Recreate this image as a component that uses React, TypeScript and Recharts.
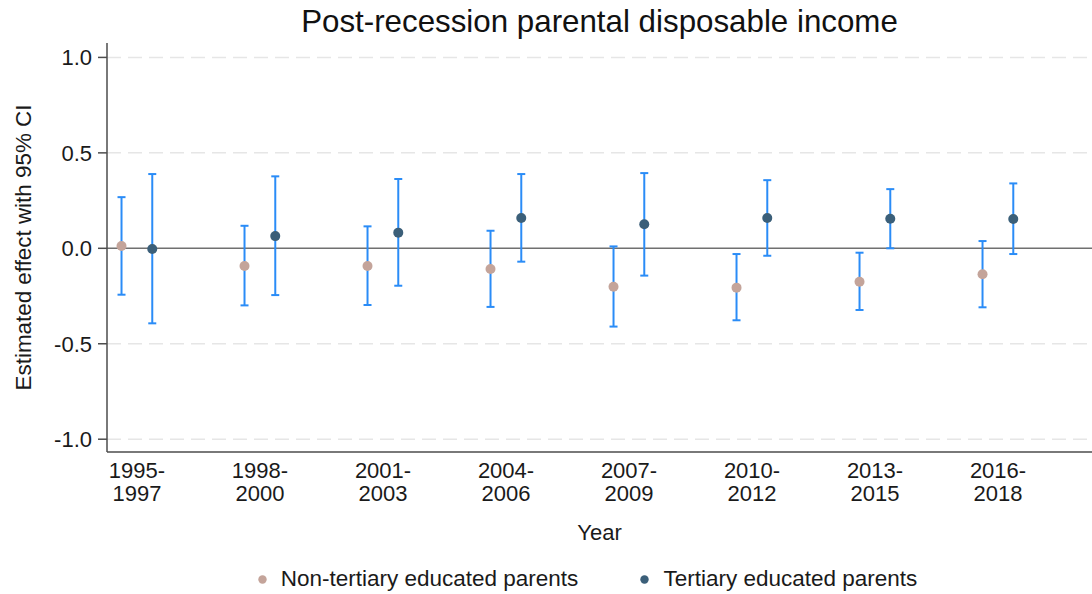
import React from 'react';
import {
  ScatterChart,
  Scatter,
  XAxis,
  YAxis,
  ErrorBar,
  ReferenceLine,
  Legend,
} from 'recharts';

const periods = ['1995-1997', '1998-2000', '2001-2003', '2004-2006', '2007-2009', '2010-2012', '2013-2015', '2016-2018'];

const nonTertiaryEst = [0.012, -0.093, -0.093, -0.108, -0.201, -0.206, -0.175, -0.136];
const nonTertiaryLow = [-0.243, -0.299, -0.297, -0.307, -0.41, -0.377, -0.323, -0.309];
const nonTertiaryHigh = [0.268, 0.118, 0.115, 0.092, 0.01, -0.03, -0.023, 0.038];

const tertiaryEst = [-0.004, 0.064, 0.082, 0.159, 0.126, 0.159, 0.155, 0.154];
const tertiaryLow = [-0.393, -0.245, -0.196, -0.07, -0.143, -0.039, 0.0, -0.03];
const tertiaryHigh = [0.389, 0.377, 0.363, 0.389, 0.394, 0.357, 0.31, 0.34];

const yTicks = [-1, -0.5, 0, 0.5, 1];
const gridValues = [-1, -0.5, 0.5, 1];

const FONT = '"Liberation Sans", Arial, sans-serif';
const NT_COLOR = '#c4a49a';
const T_COLOR = '#3b5f79';
const CI_COLOR = '#2a8cf7';

const NT_OFFSET = -0.126;
const T_OFFSET = 0.124;

const ntData = periods.map((p, i) => ({
  x: i + NT_OFFSET,
  y: nonTertiaryEst[i],
  err: [nonTertiaryEst[i] - nonTertiaryLow[i], nonTertiaryHigh[i] - nonTertiaryEst[i]],
}));
const tData = periods.map((p, i) => ({
  x: i + T_OFFSET,
  y: tertiaryEst[i],
  err: [tertiaryEst[i] - tertiaryLow[i], tertiaryHigh[i] - tertiaryEst[i]],
}));

const XTick = (props: any) => {
  const { x, y, payload } = props;
  const label = periods[Math.round(payload.value)] || '';
  const [a, b] = label.split('-');
  return (
    <text x={x} y={y} textAnchor="middle" fontSize={22} fontFamily={FONT} fill="#1a1a1a">
      <tspan x={x} dy={26}>{a + '-'}</tspan>
      <tspan x={x} dy={23}>{b}</tspan>
    </text>
  );
};

const LegendContent = () => (
  <div
    style={{
      display: 'flex',
      justifyContent: 'center',
      alignItems: 'center',
      paddingLeft: 83,
      fontFamily: FONT,
      fontSize: 22.5,
      color: '#1a1a1a',
      height: 30,
    }}
  >
    <span style={{ display: 'flex', alignItems: 'center', marginRight: 62 }}>
      <svg width={9} height={9} style={{ marginRight: 14 }}>
        <circle cx={4.5} cy={4.5} r={4.2} fill={NT_COLOR} />
      </svg>
      Non-tertiary educated parents
    </span>
    <span style={{ display: 'flex', alignItems: 'center' }}>
      <svg width={9} height={9} style={{ marginRight: 14 }}>
        <circle cx={4.5} cy={4.5} r={4.2} fill={T_COLOR} />
      </svg>
      Tertiary educated parents
    </span>
  </div>
);

const Dot = (color: string) => (p: any) => <circle cx={p.cx} cy={p.cy} r={5} fill={color} />;

export default function App() {
  return (
    <div style={{ position: 'absolute', left: 0, top: 0, width: 1092, height: 594, background: '#fff' }}>
      <div
        style={{
          position: 'absolute',
          left: 107,
          width: 985,
          top: 4,
          textAlign: 'center',
          fontFamily: FONT,
          fontSize: 31.3,
          color: '#111',
          lineHeight: '36px',
        }}
      >
        Post-recession parental disposable income
      </div>
      <ScatterChart width={1092} height={594} margin={{ top: 43, right: 0, bottom: 0, left: 0 }}>
        {gridValues.map((v) => (
          <ReferenceLine key={v} y={v} stroke="#e6e6e6" strokeDasharray="14 7" strokeWidth={1.5} />
        ))}
        <XAxis
          type="number"
          dataKey="x"
          domain={[-0.244, 7.764]}
          ticks={[0, 1, 2, 3, 4, 5, 6, 7]}
          allowDataOverflow
          tickLine={false}
          tickSize={0}
          tickMargin={0}
          height={112}
          axisLine={{ stroke: '#4d4d4d', strokeWidth: 1.5 }}
          tick={<XTick />}
          label={(lp: any) => {
            const vb = lp.viewBox || {};
            return (
              <text
                x={vb.x + vb.width / 2}
                y={vb.y + 88}
                textAnchor="middle"
                fontSize={22}
                fontFamily={FONT}
                fill="#1a1a1a"
              >
                Year
              </text>
            );
          }}
        />
        <YAxis
          type="number"
          dataKey="y"
          domain={[-1.067, 1.0755]}
          ticks={yTicks}
          allowDataOverflow
          width={107}
          tickSize={9}
          tickMargin={6}
          tickFormatter={(v: number) => v.toFixed(1)}
          tick={{ fontSize: 22, fontFamily: FONT, fill: '#1a1a1a' }}
          tickLine={{ stroke: '#4d4d4d', strokeWidth: 1.5 }}
          axisLine={{ stroke: '#4d4d4d', strokeWidth: 1.5 }}
          label={(lp: any) => {
            const vb = lp.viewBox || {};
            const cy = vb.y + vb.height / 2;
            return (
              <text
                x={31}
                y={cy}
                transform={`rotate(-90, 31, ${cy})`}
                textAnchor="middle"
                fontSize={22.4}
                fontFamily={FONT}
                fill="#1a1a1a"
              >
                Estimated effect with 95% CI
              </text>
            );
          }}
        />
        <ReferenceLine y={0} stroke="#707070" strokeWidth={1.5} />
        <Legend verticalAlign="bottom" height={30} wrapperStyle={{ left: 0, width: 1092 }} content={<LegendContent />} />
        <Scatter
          name="Non-tertiary educated parents"
          data={ntData}
          fill={NT_COLOR}
          shape={Dot(NT_COLOR)}
          isAnimationActive={false}
        >
          <ErrorBar dataKey="err" direction="y" width={4} strokeWidth={2} stroke={CI_COLOR} />
        </Scatter>
        <Scatter
          name="Tertiary educated parents"
          data={tData}
          fill={T_COLOR}
          shape={Dot(T_COLOR)}
          isAnimationActive={false}
        >
          <ErrorBar dataKey="err" direction="y" width={4} strokeWidth={2} stroke={CI_COLOR} />
        </Scatter>
      </ScatterChart>
    </div>
  );
}
